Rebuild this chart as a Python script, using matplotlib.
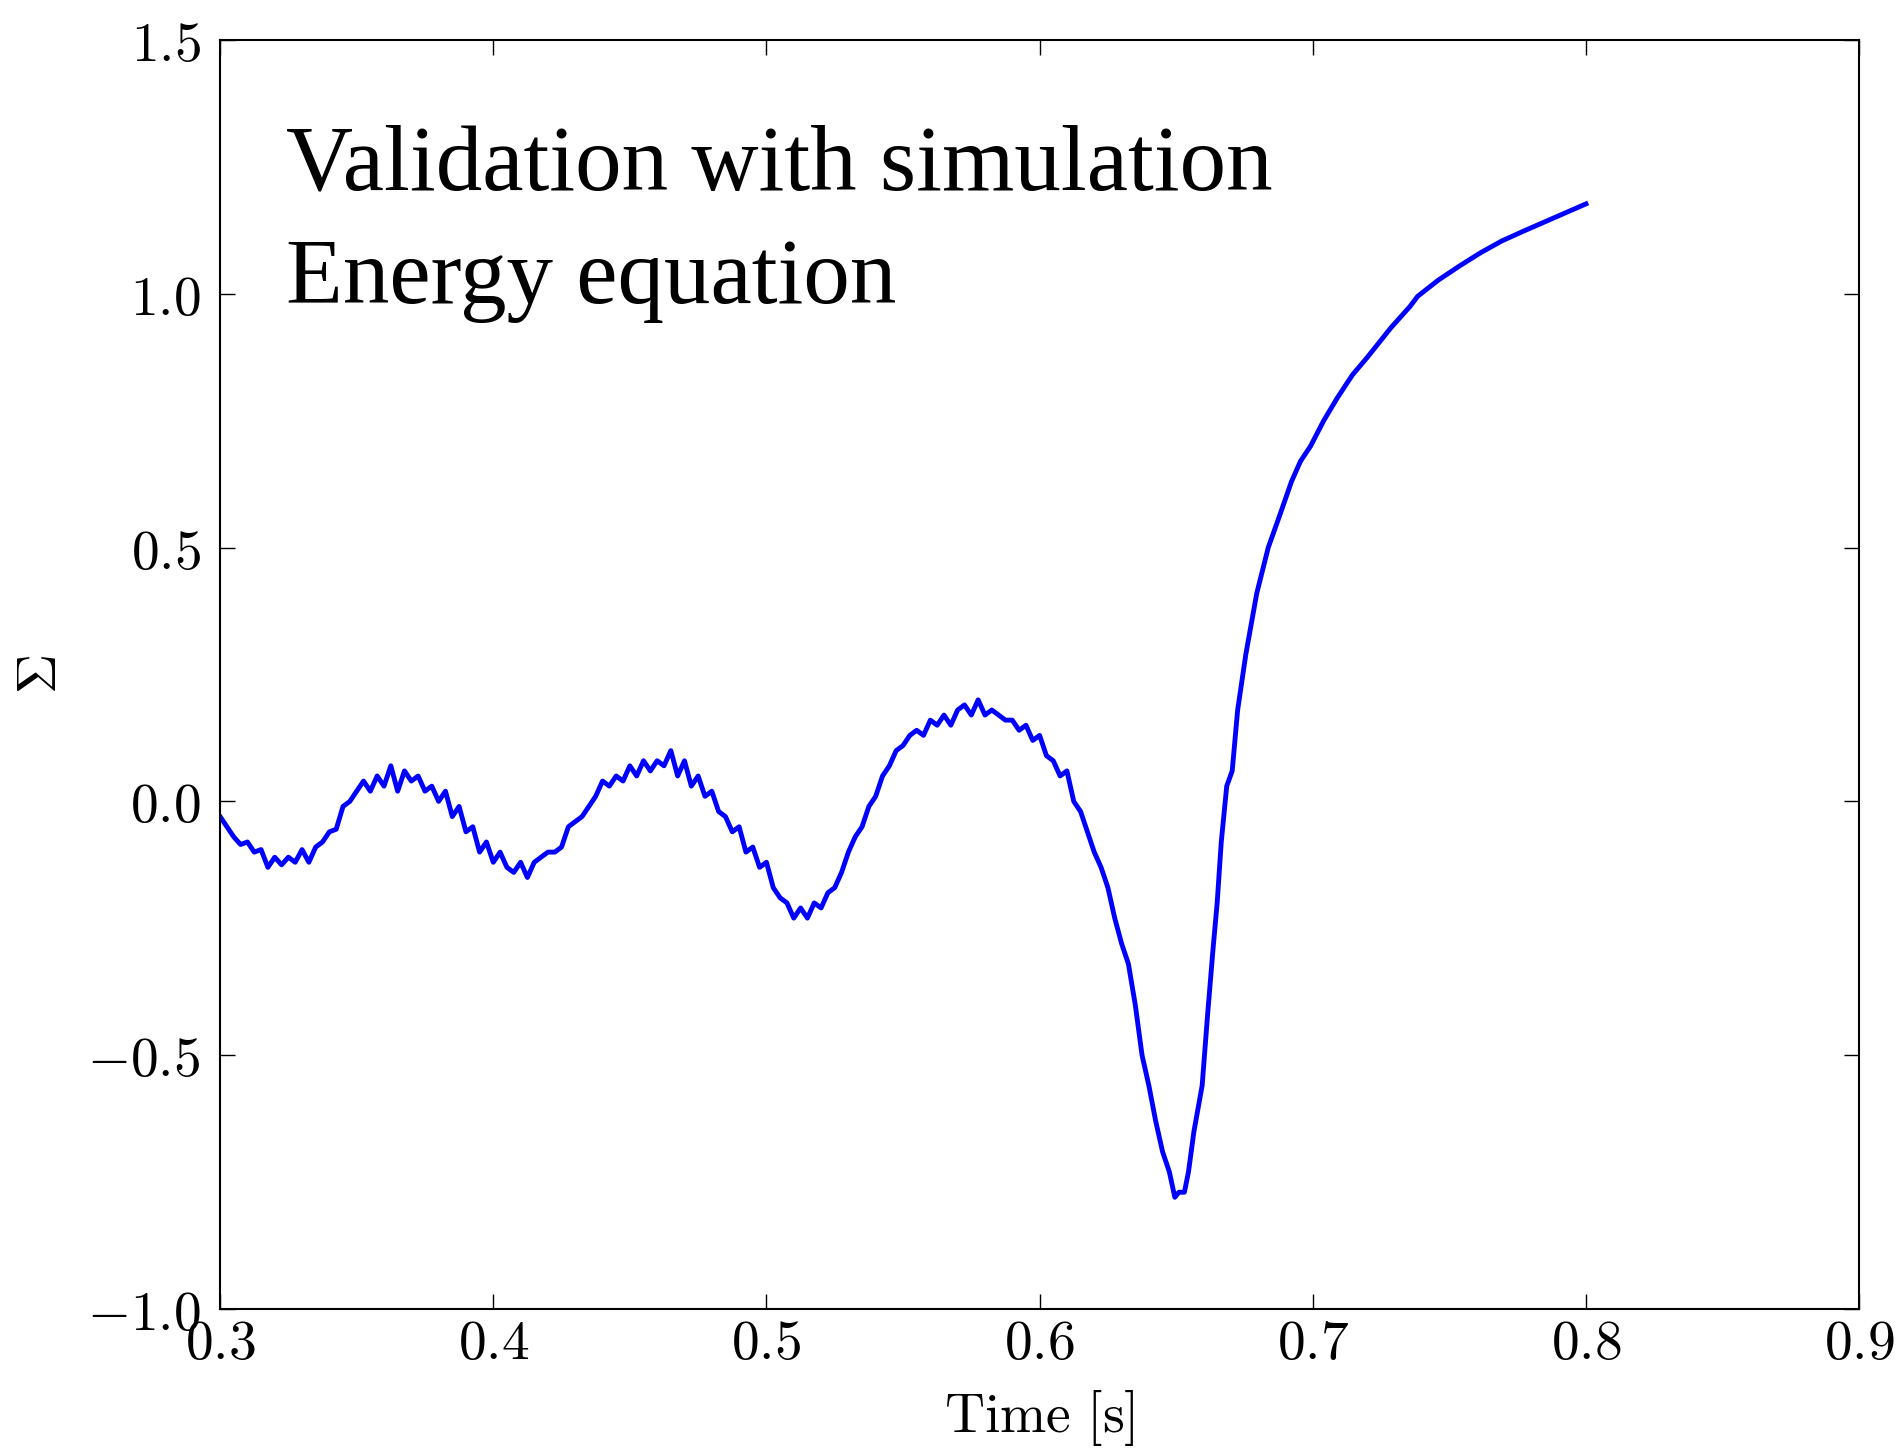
import numpy as np
import matplotlib
matplotlib.use('Agg')
import matplotlib.pyplot as plt
from matplotlib.ticker import FormatStrFormatter

plt.rcParams['mathtext.fontset'] = 'cm'

# time [s] and Sigma values
time = [0.300, 0.3025, 0.305, 0.3075, 0.310, 0.3125, 0.315, 0.3175, 0.320, 0.3225,
        0.325, 0.3275, 0.330, 0.3325, 0.335, 0.3375, 0.340, 0.3425, 0.345, 0.3475,
        0.350, 0.3525, 0.355, 0.3575, 0.360, 0.3625, 0.365, 0.3675, 0.370, 0.3725,
        0.375, 0.3775, 0.380, 0.3825, 0.385, 0.3875, 0.390, 0.3925, 0.395, 0.3975,
        0.400, 0.4025, 0.405, 0.4075, 0.410, 0.4125, 0.415, 0.4175, 0.420, 0.4225,
        0.425, 0.4275, 0.430, 0.4325, 0.435, 0.4375, 0.440, 0.4425, 0.445, 0.4475,
        0.450, 0.4525, 0.455, 0.4575, 0.460, 0.4625, 0.465, 0.4675, 0.470, 0.4725,
        0.475, 0.4775, 0.480, 0.4825, 0.485, 0.4875, 0.490, 0.4925, 0.495, 0.4975,
        0.500, 0.5025, 0.505, 0.5075, 0.510, 0.5125, 0.515, 0.5175, 0.520, 0.5225,
        0.525, 0.5275, 0.530, 0.5325, 0.535, 0.5375, 0.540, 0.5425, 0.545, 0.5475,
        0.550, 0.5525, 0.555, 0.5575, 0.560, 0.5625, 0.565, 0.5675, 0.570, 0.5725,
        0.575, 0.5775, 0.580, 0.5825, 0.585, 0.5875, 0.590, 0.5925, 0.595, 0.5975,
        0.600, 0.6025, 0.605, 0.6075, 0.610, 0.6125, 0.615, 0.6175, 0.620, 0.6225,
        0.625, 0.6275, 0.630, 0.6325, 0.635, 0.6375, 0.640, 0.6425, 0.645, 0.6475,
        0.6495, 0.651, 0.653, 0.6545, 0.6565, 0.6595, 0.6615, 0.6635, 0.665, 0.6665,
        0.6685, 0.6705, 0.6725, 0.6755, 0.6795, 0.6837, 0.688, 0.6922, 0.6955, 0.6992,
        0.704, 0.709, 0.7145, 0.720, 0.7286, 0.7356, 0.7384, 0.746, 0.7538, 0.7615,
        0.7692, 0.777, 0.7847, 0.7925, 0.800]
sigma = [-0.03, -0.05, -0.07, -0.085, -0.08, -0.10, -0.095, -0.13, -0.11, -0.125,
         -0.11, -0.12, -0.095, -0.12, -0.09, -0.08, -0.06, -0.055, -0.01, 0.0,
         0.02, 0.04, 0.02, 0.05, 0.03, 0.07, 0.02, 0.06, 0.04, 0.05,
         0.02, 0.03, 0.0, 0.02, -0.03, -0.01, -0.06, -0.05, -0.10, -0.08,
         -0.12, -0.10, -0.13, -0.14, -0.12, -0.15, -0.12, -0.11, -0.10, -0.10,
         -0.09, -0.05, -0.04, -0.03, -0.01, 0.01, 0.04, 0.03, 0.05, 0.04,
         0.07, 0.05, 0.08, 0.06, 0.08, 0.07, 0.10, 0.05, 0.08, 0.03,
         0.05, 0.01, 0.02, -0.02, -0.03, -0.06, -0.05, -0.10, -0.09, -0.13,
         -0.12, -0.17, -0.19, -0.20, -0.23, -0.21, -0.23, -0.20, -0.21, -0.18,
         -0.17, -0.14, -0.10, -0.07, -0.05, -0.01, 0.01, 0.05, 0.07, 0.10,
         0.11, 0.13, 0.14, 0.13, 0.16, 0.15, 0.17, 0.15, 0.18, 0.19,
         0.17, 0.20, 0.17, 0.18, 0.17, 0.16, 0.16, 0.14, 0.15, 0.12,
         0.13, 0.09, 0.08, 0.05, 0.06, 0.0, -0.02, -0.06, -0.10, -0.13,
         -0.17, -0.23, -0.28, -0.32, -0.40, -0.50, -0.56, -0.63, -0.69, -0.73,
         -0.78, -0.77, -0.77, -0.73, -0.65, -0.56, -0.42, -0.29, -0.20, -0.08,
         0.03, 0.06, 0.18, 0.29, 0.41, 0.50, 0.565, 0.63, 0.67, 0.70,
         0.75, 0.795, 0.84, 0.875, 0.933, 0.975, 0.995, 1.027, 1.055, 1.081,
         1.104, 1.123, 1.141, 1.159, 1.177]

x_ticks = [0.3, 0.4, 0.5, 0.6, 0.7, 0.8, 0.9]
y_ticks = [-1.0, -0.5, 0.0, 0.5, 1.0, 1.5]
note_lines = ['Validation with simulation', 'Energy equation']

fig = plt.figure(figsize=(18.99, 14.52), dpi=100)
ax = fig.add_axes([0.1159, 0.0985, 0.8631, 0.874])

ax.plot(time, sigma, color='#0000ff', lw=3.5)

ax.set_xlim(0.3, 0.9)
ax.set_ylim(-1.0, 1.5)
ax.set_xticks(x_ticks)
ax.set_yticks(y_ticks)
ax.xaxis.set_major_formatter(FormatStrFormatter('$%.1f$'))
ax.yaxis.set_major_formatter(FormatStrFormatter('$%.1f$'))
ax.tick_params(direction='in', top=True, right=True, length=10.5, width=1,
               labelsize=40)
ax.tick_params(axis='x', pad=6)
ax.tick_params(axis='y', pad=14)
for sp in ax.spines.values():
    sp.set_linewidth(1.5)

ax.set_xlabel(r'$\mathrm{Time\ [s]}$', fontsize=40)
ax.xaxis.set_label_coords(0.5, -0.062)
ax.set_ylabel(r'$\Sigma$', fontsize=40)
ax.yaxis.set_label_coords(-0.093, 0.5)

ax.text(0.040, 0.8818, note_lines[0], transform=ax.transAxes, va='baseline',
        ha='left', fontsize=67, family='Liberation Serif')
ax.text(0.040, 0.7927, note_lines[1], transform=ax.transAxes, va='baseline',
        ha='left', fontsize=67, family='Liberation Serif')

fig.savefig('out.png', dpi=100)
